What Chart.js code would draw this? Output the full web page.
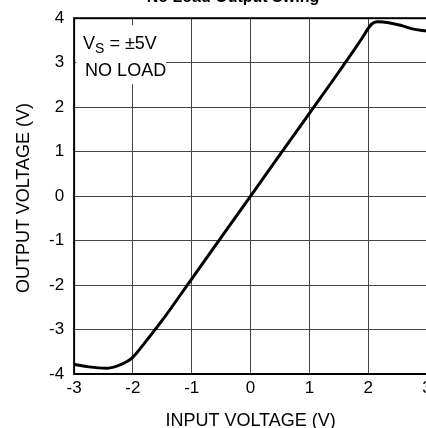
<!doctype html>
<html>
  <head>
    <meta charset="utf-8">
    <title>No Load Output Swing</title>
    <style>
      html, body {
	  margin: 0;
	  padding: 0;
	  overflow: hidden;
	  background: #fff;
      }
      #wrap {
	  position: absolute;
	  left: 0;
	  top: -20px;
	  width: 440px;
	  height: 454px;
      }
      #ytitle {
	  position: absolute;
	  left: 23px;
	  top: 198px;
	  transform: translate(-50%, -50%) rotate(-90deg);
	  white-space: nowrap;
	  font: 18px "Liberation Sans", Arial, sans-serif;
	  line-height: 1;
	  color: #000;
      }
    </style>
    <script src="https://cdn.jsdelivr.net/npm/chart.js@4/dist/chart.umd.min.js"></script>
  </head>
  <body>
    <div id="wrap"><canvas id="swingChart"></canvas></div>
    <div id="ytitle">OUTPUT VOLTAGE (V)</div>
  </body>
  <script>
    // values
    const inputV = [-3, -2.75, -2.45, -2.25, -2.1, -2.0, -1.8, -1.5, -1.0, -0.5, 0,
		    0.5, 1.0, 1.5, 1.9, 2.0, 2.06, 2.15, 2.35, 2.55, 2.75, 3.0];
    const outputV = [-3.78, -3.84, -3.87, -3.81, -3.72, -3.62, -3.3, -2.79, -1.86, -0.93, 0,
		     0.93, 1.86, 2.79, 3.56, 3.77, 3.87, 3.92, 3.9, 3.84, 3.76, 3.71];
    const xTicks = [-3, -2, -1, 0, 1, 2, 3];
    const yTicks = [-4, -3, -2, -1, 0, 1, 2, 3, 4];

    const fontFam = '"Liberation Sans", Arial, sans-serif';

    let notes = {
	id: 'notes',
	beforeDatasetsDraw(chart) {
	    let ctx = chart.ctx;
	    let a = chart.chartArea;
	    ctx.save();
	    ctx.fillStyle = '#fff';
	    ctx.fillRect(a.left + 2, a.top + 7, 90, 59);
	    ctx.fillStyle = '#000';
	    ctx.textBaseline = 'alphabetic';
	    ctx.font = '18px ' + fontFam;
	    let x = a.left + 9, y = a.top + 31;
	    ctx.fillText('V', x, y);
	    x += ctx.measureText('V').width;
	    ctx.font = '14px ' + fontFam;
	    ctx.fillText('S', x, y + 4);
	    x += ctx.measureText('S').width;
	    ctx.font = '18px ' + fontFam;
	    ctx.fillText(' = \u00b15V', x, y);
	    ctx.fillText('NO LOAD', a.left + 11, a.top + 58);
	    ctx.restore();
	},
	afterDraw(chart) {
	    let ctx = chart.ctx;
	    let a = chart.chartArea;
	    ctx.save();
	    ctx.strokeStyle = '#000';
	    ctx.lineWidth = 2;
	    ctx.strokeRect(a.left, a.top, a.right - a.left, a.bottom - a.top);
	    ctx.restore();
	}
    };

    let ctx = document.getElementById('swingChart');
    let myChart = new Chart(ctx, {
	type: 'line',
	data: {
	    datasets: [{
		data: inputV.map((v, i) => ({x: v, y: outputV[i]})),
		borderColor: '#000',
		borderWidth: 3,
		pointRadius: 0,
		fill: false,
		cubicInterpolationMode: 'monotone',
	    }]
	},
	options: {
	    responsive: true,
	    maintainAspectRatio: false,
	    animation: false,
	    layout: { padding: { left: 39, right: 13, top: 0, bottom: 0 } },
	    plugins: {
		legend: { display: false },
		tooltip: { enabled: false },
		title: {
		    display: true,
		    text: 'No Load Output Swing',
		    color: '#000',
		    font: { family: fontFam, size: 16, weight: 'bold' },
		    padding: { top: 8, bottom: 11 },
		}
	    },
	    scales: {
		x: {
		    type: 'linear',
		    min: xTicks[0],
		    max: xTicks[xTicks.length - 1],
		    grid: { color: '#444', lineWidth: 1, drawTicks: false },
		    border: { display: false },
		    ticks: { color: '#000', padding: 4, maxRotation: 0, stepSize: 1,
			     font: { family: fontFam, size: 17 } },
		    title: { display: true, text: 'INPUT VOLTAGE (V)', color: '#000',
			     font: { family: fontFam, size: 18 },
			     padding: { top: 8, bottom: 2 } }
		},
		y: {
		    min: yTicks[0],
		    max: yTicks[yTicks.length - 1],
		    grid: { color: '#444', lineWidth: 1, drawTicks: false },
		    border: { display: false },
		    ticks: { color: '#000', padding: 10, stepSize: 1,
			     font: { family: fontFam, size: 17 } }
		}
	    }
	},
	plugins: [notes]
    });
  </script>
</html>
